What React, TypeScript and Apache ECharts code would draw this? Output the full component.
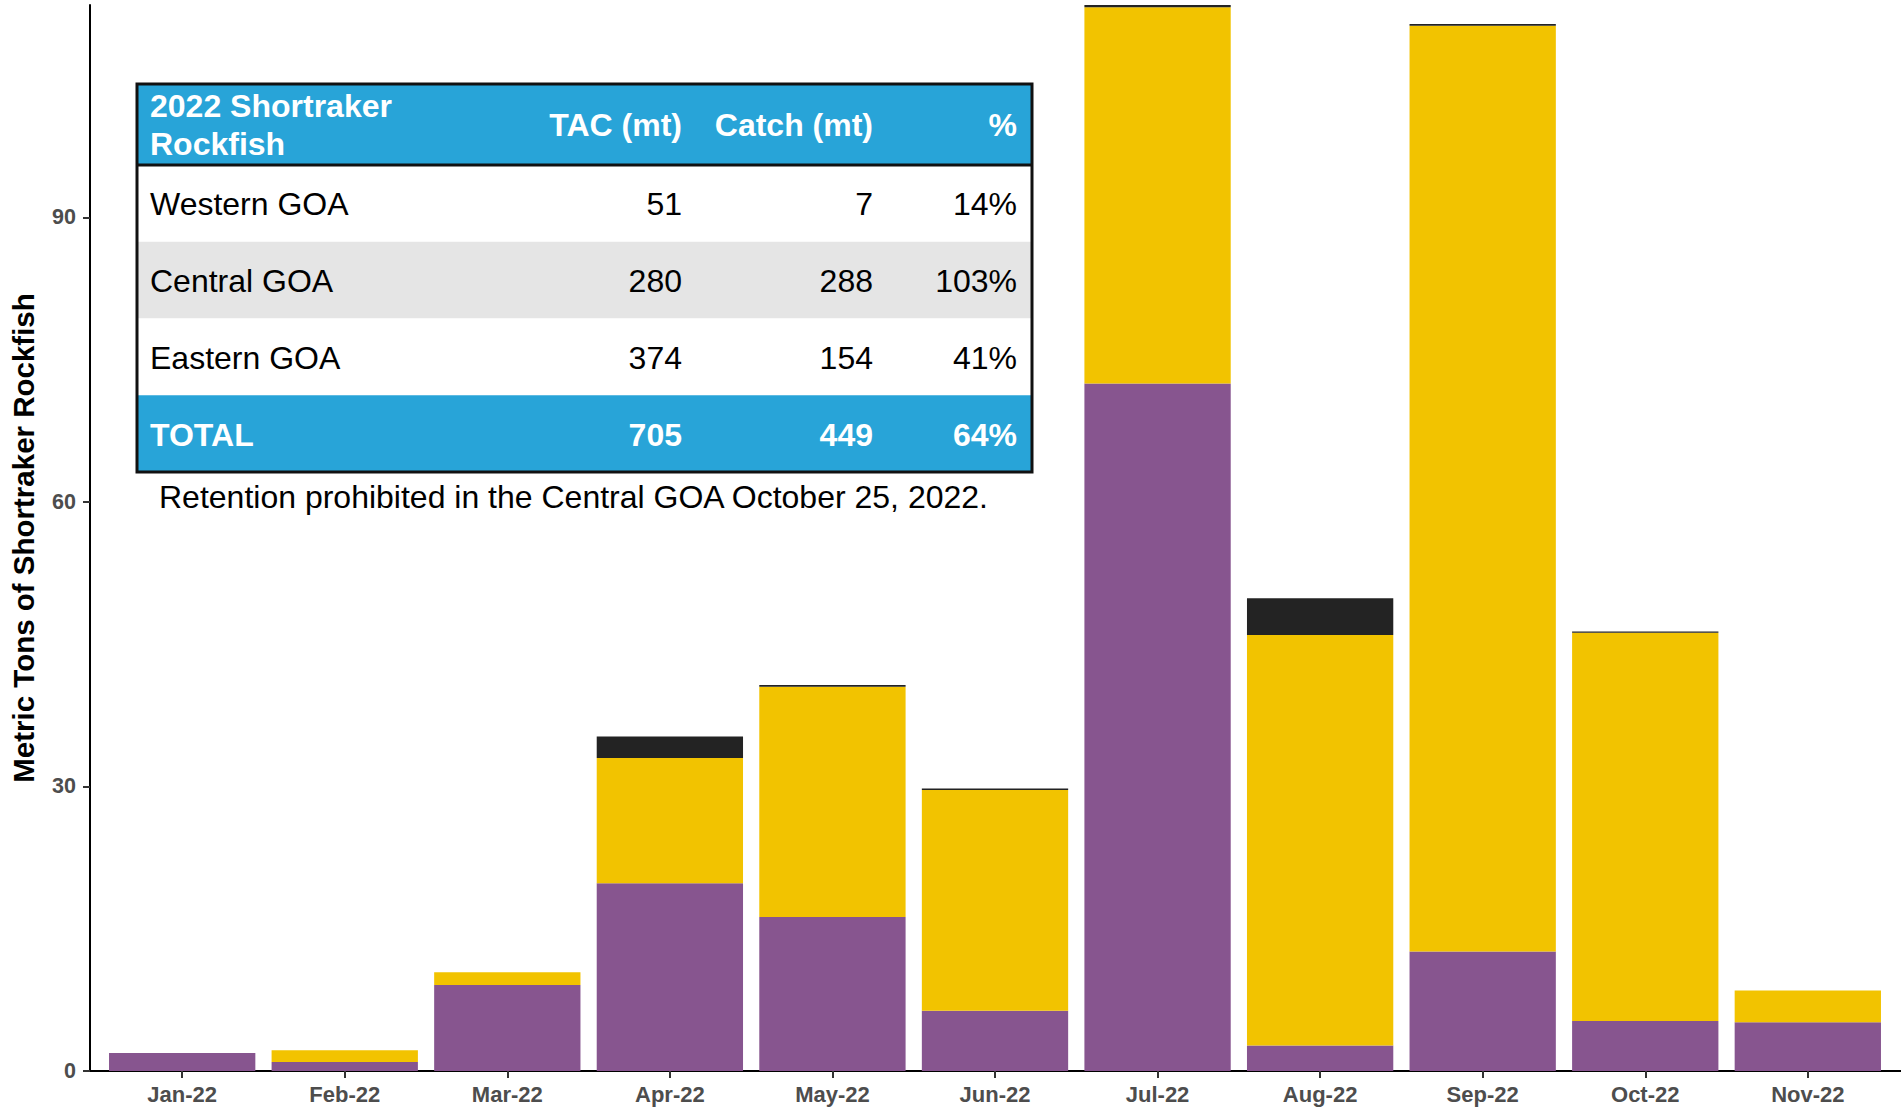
import React, { useEffect, useRef } from 'react';
import * as echarts from 'echarts';

// ---- chart data ----
const months = ['Jan-22', 'Feb-22', 'Mar-22', 'Apr-22', 'May-22', 'Jun-22', 'Jul-22', 'Aug-22', 'Sep-22', 'Oct-22', 'Nov-22'];
const easternGOA = [1.9, 0.95, 9.07, 19.8, 16.24, 6.36, 72.5, 2.7, 12.6, 5.27, 5.13];
const centralGOA = [0, 1.23, 1.33, 13.2, 24.28, 23.26, 39.66, 43.26, 97.6, 40.93, 3.37];
const westernGOA = [0, 0, 0, 2.27, 0.18, 0.18, 0.24, 3.9, 0.2, 0.14, 0];
const yTicks = [0, 30, 60, 90];
const yMax = 112.4;

// ---- table data ----
const tableTitle = '2022 Shortraker\nRockfish';
const tableHeaders = ['TAC (mt)', 'Catch (mt)', '%'];
const regions = ['Western GOA', 'Central GOA', 'Eastern GOA'];
const tacValues = ['51', '280', '374'];
const catchValues = ['7', '288', '154'];
const pctValues = ['14%', '103%', '41%'];
const totalRow = ['TOTAL', '705', '449', '64%'];
const note = 'Retention prohibited in the Central GOA October 25, 2022.';

const PURPLE = '#87558F';
const YELLOW = '#F2C300';
const BLACK = '#232323';
const BLUE = '#28A4D8';
const GRAY_ROW = '#E5E5E5';
const FONT = "'Liberation Sans', Arial, Helvetica, sans-serif";

function buildTable() {
  const left = 137;
  const right = 1032;
  const top = 84;
  const headerH = 81;
  const rowH = 76.75;
  const textLeft = 150;
  const colRight = [682, 873, 1017];
  const els: any[] = [];
  const txt = (text: string, x: number, y: number, opts: any) => ({
    type: 'text',
    x,
    y,
    z: 10,
    style: {
      text,
      fill: opts.fill,
      font: `${opts.bold ? 'bold ' : ''}32px ${FONT}`,
      textAlign: opts.align || 'left',
      align: opts.align || 'left',
      textVerticalAlign: 'middle',
      verticalAlign: 'middle',
      lineHeight: 38,
    },
  });
  els.push({ type: 'rect', z: 5, shape: { x: left, y: top, width: right - left, height: headerH }, style: { fill: BLUE } });
  regions.forEach((_, i) => {
    const y = top + headerH + i * rowH;
    els.push({ type: 'rect', z: 5, shape: { x: left, y, width: right - left, height: rowH }, style: { fill: i === 1 ? GRAY_ROW : '#ffffff' } });
  });
  const totalTop = top + headerH + regions.length * rowH;
  els.push({ type: 'rect', z: 5, shape: { x: left, y: totalTop, width: right - left, height: rowH }, style: { fill: BLUE } });
  els.push({ type: 'rect', z: 12, shape: { x: left, y: top, width: right - left, height: totalTop + rowH - top }, style: { fill: 'none', stroke: '#111', lineWidth: 3 } });
  els.push({ type: 'line', z: 12, shape: { x1: left, y1: top + headerH, x2: right, y2: top + headerH }, style: { stroke: '#111', lineWidth: 3 } });
  const hc = top + headerH / 2;
  els.push(txt(tableTitle, textLeft, hc, { fill: '#fff', bold: true }));
  tableHeaders.forEach((h, j) => els.push(txt(h, colRight[j], hc, { fill: '#fff', bold: true, align: 'right' })));
  regions.forEach((r, i) => {
    const cy = top + headerH + i * rowH + rowH / 2 + 1;
    els.push(txt(r, textLeft, cy, { fill: '#000' }));
    [tacValues[i], catchValues[i], pctValues[i]].forEach((v, j) => els.push(txt(v, colRight[j], cy, { fill: '#000', align: 'right' })));
  });
  const tcy = totalTop + rowH / 2 + 1;
  els.push(txt(totalRow[0], textLeft, tcy, { fill: '#fff', bold: true }));
  totalRow.slice(1).forEach((v, j) => els.push(txt(v, colRight[j], tcy, { fill: '#fff', bold: true, align: 'right' })));
  els.push(txt(note, 159, 497, { fill: '#000' }));
  return els;
}

export default function App() {
  const ref = useRef<HTMLDivElement>(null);
  useEffect(() => {
    if (!ref.current) return;
    const chart = echarts.init(ref.current, null, { renderer: 'svg' });
    // frame spans 11 categories plus 0.6 of a band on each side
    const frameLeft = 86;
    const frameWidth = 1818;
    const band = frameWidth / (months.length + 1.2);
    const pad = band * 0.1;
    const mk = (name: string, vals: number[], color: string) => ({
      name,
      type: 'bar',
      stack: 'catch',
      xAxisIndex: 0,
      yAxisIndex: 0,
      barCategoryGap: '10%',
      data: vals,
      itemStyle: { color },
      emphasis: { disabled: true },
    });
    chart.setOption({
      animation: false,
      backgroundColor: '#ffffff',
      textStyle: { fontFamily: FONT },
      grid: [
        { left: frameLeft + pad, top: 5, bottom: 38, width: frameWidth - 2 * pad, containLabel: false },
        { left: frameLeft, top: 5, bottom: 38, width: frameWidth, containLabel: false },
      ],
      xAxis: [
        {
          type: 'category',
          gridIndex: 0,
          data: months,
          boundaryGap: true,
          splitLine: { show: false },
          axisLine: { show: false },
          axisTick: { show: true, alignWithLabel: true, length: 7, lineStyle: { color: '#333', width: 2 } },
          axisLabel: { color: '#4D4D4D', fontWeight: 'bold', fontSize: 22, fontFamily: FONT, margin: 12, interval: 0 },
        },
        {
          type: 'value',
          gridIndex: 1,
          min: 0,
          max: 1,
          splitLine: { show: false },
          axisLine: { show: true, onZero: false, lineStyle: { color: '#000', width: 2 } },
          axisTick: { show: false },
          axisLabel: { show: false },
        },
      ],
      yAxis: [
        {
          type: 'value',
          gridIndex: 0,
          min: 0,
          max: yMax,
          show: false,
          splitLine: { show: false },
        },
        {
          type: 'value',
          gridIndex: 1,
          min: 0,
          max: yMax,
          name: 'Metric Tons of Shortraker Rockfish',
          nameLocation: 'middle',
          nameGap: 52,
          nameTextStyle: { color: '#000', fontWeight: 'bold', fontSize: 29.5, fontFamily: FONT },
          splitLine: { show: false },
          axisLine: { show: true, onZero: false, lineStyle: { color: '#000', width: 2 } },
          axisTick: { show: true, customValues: yTicks, length: 7, lineStyle: { color: '#333', width: 2 } },
          axisLabel: {
            customValues: yTicks,
            color: '#4D4D4D',
            fontWeight: 'bold',
            fontSize: 21.5,
            fontFamily: FONT,
            margin: 14,
          },
        },
      ],
      series: [
        mk('Eastern GOA', easternGOA, PURPLE),
        mk('Central GOA', centralGOA, YELLOW),
        mk('Western GOA', westernGOA, BLACK),
      ],
      graphic: buildTable(),
    });
    return () => chart.dispose();
  }, []);
  return (
    <div
      ref={ref}
      style={{ position: 'fixed', left: 0, top: 0, width: 1901, height: 1109, background: '#fff' }}
    />
  );
}
